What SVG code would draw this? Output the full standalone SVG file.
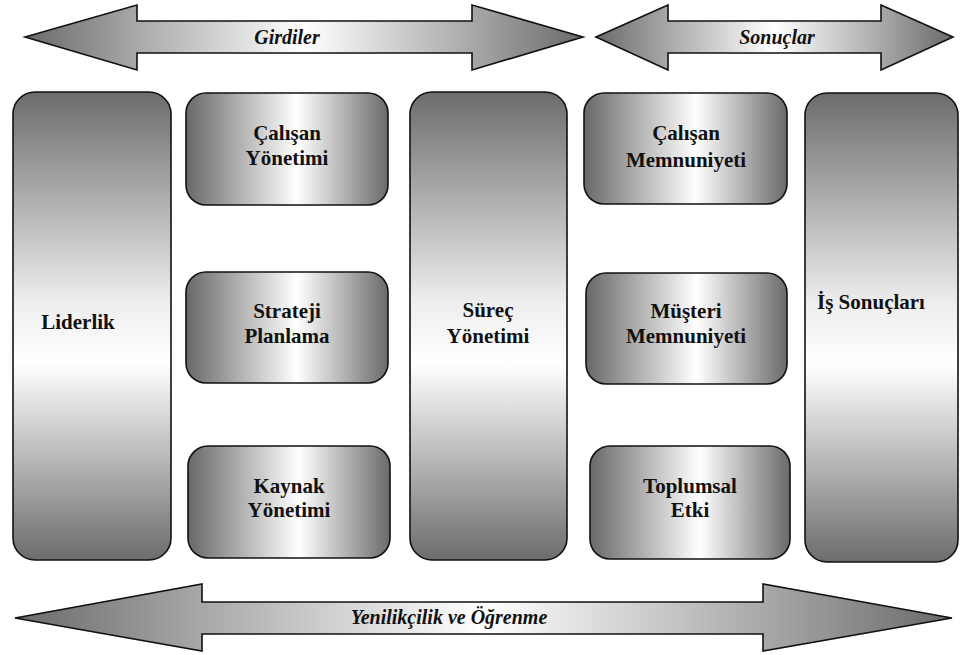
<svg xmlns="http://www.w3.org/2000/svg" width="960" height="655" viewBox="0 0 960 655">
  <defs>
    <!-- metallic shading for the tall column panels -->
    <linearGradient id="gradV" x1="0" y1="0" x2="0" y2="1">
      <stop offset="0" stop-color="#6c6c6c"/>
      <stop offset="0.45" stop-color="#eeeeee"/>
      <stop offset="0.58" stop-color="#ffffff"/>
      <stop offset="1" stop-color="#6c6c6c"/>
    </linearGradient>
    <!-- metallic shading for the small boxes -->
    <linearGradient id="gradH" x1="0" y1="0" x2="1" y2="0">
      <stop offset="0" stop-color="#686868"/>
      <stop offset="0.55" stop-color="#ffffff"/>
      <stop offset="1" stop-color="#6a6a6a"/>
    </linearGradient>
    <!-- shading for the double-headed band arrows -->
    <linearGradient id="gradArrow" x1="0" y1="0" x2="1" y2="0">
      <stop offset="0" stop-color="#6a6a6a"/>
      <stop offset="0.2" stop-color="#a8a8a8"/>
      <stop offset="0.5" stop-color="#ffffff"/>
      <stop offset="0.8" stop-color="#a8a8a8"/>
      <stop offset="1" stop-color="#6a6a6a"/>
    </linearGradient>
    <style>
      .col { fill: url(#gradV); stroke: #111; stroke-width: 1.6; }
      .box { fill: url(#gradH); stroke: #111; stroke-width: 1.6; }
      .arrow { fill: url(#gradArrow); stroke: #111; stroke-width: 1.6; }
    </style>
  </defs>

  <rect width="960" height="655" fill="#ffffff"/>

  <!-- band arrows -->
  <g id="connectors">
    <g id="girdiler">
      <polygon class="arrow" points="25,37 137,5 137,21 472,21 472,5 583,37 472,70 472,53 137,53 137,70"/>
      <text x="287" y="44" font-family="serif" font-weight="bold" font-style="italic" font-size="20" fill="#111" text-anchor="middle">Girdiler</text>
    </g>
    <g id="sonuclar">
      <polygon class="arrow" points="596,37 668,5 668,21 881,21 881,5 953,37 881,70 881,53 668,53 668,70"/>
      <text x="777" y="44" font-family="serif" font-weight="bold" font-style="italic" font-size="20" fill="#111" text-anchor="middle">Sonuçlar</text>
    </g>
    <g id="yenilikcilik">
      <polygon class="arrow" points="15,618 202,584 202,602 763,602 763,584 952,618 763,651 763,634 202,634 202,651"/>
      <text x="449" y="624" font-family="serif" font-weight="bold" font-style="italic" font-size="20" fill="#111" text-anchor="middle">Yenilikçilik ve Öğrenme</text>
    </g>
  </g>

  <!-- enabler and result nodes -->
  <g id="nodes" font-family="serif" font-weight="bold" font-size="21" fill="#111" text-anchor="middle">
    <g id="liderlik">
      <rect class="col" x="13" y="92" width="158" height="468" rx="22"/>
      <text x="78" y="329">Liderlik</text>
    </g>
    <g id="calisan-yonetimi">
      <rect class="box" x="186" y="93" width="202" height="112" rx="20"/>
      <text x="287" y="140">Çalışan</text>
      <text x="287" y="165">Yönetimi</text>
    </g>
    <g id="strateji-planlama">
      <rect class="box" x="186" y="272" width="202" height="111" rx="20"/>
      <text x="287" y="318">Strateji</text>
      <text x="287" y="343">Planlama</text>
    </g>
    <g id="kaynak-yonetimi">
      <rect class="box" x="188" y="446" width="202" height="112" rx="20"/>
      <text x="289" y="493">Kaynak</text>
      <text x="289" y="517">Yönetimi</text>
    </g>
    <g id="surec-yonetimi">
      <rect class="col" x="410" y="92" width="157" height="468" rx="22"/>
      <text x="488" y="317">Süreç</text>
      <text x="488" y="343">Yönetimi</text>
    </g>
    <g id="calisan-memnuniyeti">
      <rect class="box" x="584" y="93" width="203" height="111" rx="20"/>
      <text x="686" y="140">Çalışan</text>
      <text x="686" y="167">Memnuniyeti</text>
    </g>
    <g id="musteri-memnuniyeti">
      <rect class="box" x="586" y="273" width="201" height="111" rx="20"/>
      <text x="686" y="318">Müşteri</text>
      <text x="686" y="343">Memnuniyeti</text>
    </g>
    <g id="toplumsal-etki">
      <rect class="box" x="590" y="446" width="200" height="113" rx="20"/>
      <text x="690" y="493">Toplumsal</text>
      <text x="690" y="517">Etki</text>
    </g>
    <g id="is-sonuclari">
      <rect class="col" x="805" y="93" width="153" height="469" rx="22"/>
      <text x="871" y="309">İş Sonuçları</text>
    </g>
  </g>
</svg>
